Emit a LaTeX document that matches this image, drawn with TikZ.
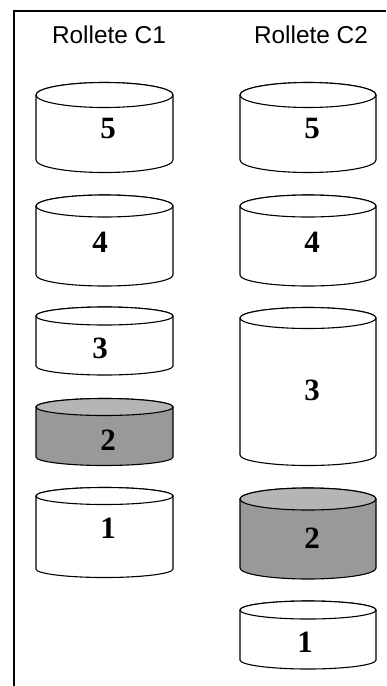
\documentclass[tikz,border=0pt]{standalone}
\usepackage{fontspec}
\setmainfont{Liberation Serif}
\setsansfont{Liberation Sans}
\definecolor{drumdark}{gray}{0.6}
\definecolor{drumtop}{gray}{0.71}
% #1 name, #2 cx, #3 rx, #4 ytop, #5 ybot, #6 ry, #7 body fill, #8 top fill
\newcommand\drumshape[8]{%
  \filldraw[drumline,fill=#7] (#2-#3,#4) -- (#2-#3,#5)
     arc[start angle=180,end angle=360,x radius=#3pt,y radius=#6pt]
     -- (#2+#3,#4) arc[start angle=0,end angle=180,x radius=#3pt,y radius=#6pt] -- cycle;
  \filldraw[drumline,fill=#8] (#2,#4) ellipse[x radius=#3pt,y radius=#6pt];
  \coordinate (#1) at (#2,#4);
}
\begin{document}
\begin{tikzpicture}[x=1pt,y=-1pt,
  drumline/.style={draw=black,line width=1.1pt},
  title/.style={font=\sffamily\fontsize{24.4}{28}\selectfont,anchor=base,inner sep=0pt},
  digit/.style={font=\bfseries\fontsize{31}{34}\selectfont,inner sep=0pt}]
\useasboundingbox (0,0) rectangle (386,686);
\fill[white] (0,0) rectangle (386,686);
\coordinate (fb) at (14,686);
\coordinate (ftl) at (14,11);
\coordinate (ftr) at (386,11);
\draw[line width=1.5pt] (fb) -- (ftl) -- (ftr);
\node[title] (t1) at (109,43) {Rollete C1};
\node[title] (t2) at (311,43) {Rollete C2};
% column C1
\drumshape{a5}{104.5}{68.5}{95}{160}{12.5}{white}{white}
\drumshape{a4}{104.5}{68.5}{206}{275}{11}{white}{white}
\drumshape{a3}{104.5}{68.5}{316}{366}{9}{white}{white}
\drumshape{a2}{104.5}{68.5}{407}{457}{8.5}{drumdark}{drumtop}
\drumshape{a1}{104.5}{68.5}{496}{569}{8.5}{white}{white}
% column C2
\drumshape{b5}{308}{68}{95}{160}{12.5}{white}{white}
\drumshape{b4}{308}{68}{206}{275}{11}{white}{white}
\drumshape{b3}{308}{68}{318}{455}{10.5}{white}{white}
\drumshape{b2}{308}{68}{499}{568}{11}{drumdark}{drumtop}
\drumshape{b1}{308}{68}{610}{660}{9}{white}{white}
% labels
\node[digit] (la5) at (108,128) {5};
\node[digit] (la4) at (100,242) {4};
\node[digit] (la3) at (100,348) {3};
\node[digit] (la2) at (108,440) {2};
\node[digit] (la1) at (108,528) {1};
\node[digit] (lb5) at (312,128) {5};
\node[digit] (lb4) at (312,242) {4};
\node[digit] (lb3) at (312,390) {3};
\node[digit] (lb2) at (312,538) {2};
\node[digit] (lb1) at (305,642) {1};
\end{tikzpicture}
\end{document}
